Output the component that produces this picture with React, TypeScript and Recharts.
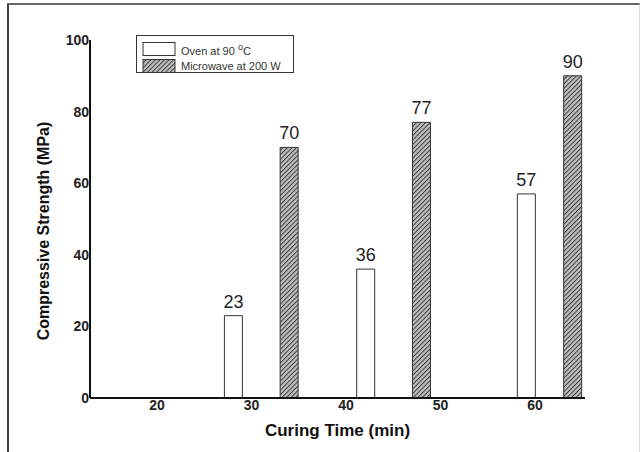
import { Bar, BarChart, LabelList, Legend, XAxis, YAxis } from "recharts";

// curing time positions (min) as drawn on the axis, and strengths (MPa)
const ovenTimes = [28.1, 42.1, 59.1];
const ovenStrength = [23, 36, 57];
const microwaveTimes = [34, 48, 64];
const microwaveStrength = [70, 77, 90];
const xTicks = [20, 30, 40, 50, 60];
const yTicks = [0, 20, 40, 60, 80, 100];

const chartData = [
  ...ovenTimes.map((t, i) => ({ t, oven: ovenStrength[i] })),
  ...microwaveTimes.map((t, i) => ({ t, microwave: microwaveStrength[i] })),
].sort((a, b) => a.t - b.t);

const font = "Arial, 'Liberation Sans', sans-serif";

const LegendBox = () => (
  <div
    style={{
      width: 156,
      height: 36,
      border: "1px solid #333",
      background: "#fff",
      fontFamily: font,
      fontSize: 11,
      color: "#333",
      boxSizing: "content-box",
    }}
  >
    <div style={{ display: "flex", alignItems: "center", marginTop: 6 }}>
      <svg width={34} height={14} style={{ marginLeft: 5 }}>
        <rect x={1} y={0.5} width={32} height={13} fill="#fff" stroke="#333" />
      </svg>
      <span style={{ marginLeft: 5 }}>
        Oven at 90 <sup style={{ fontSize: 9 }}>o</sup>C
      </span>
    </div>
    <div style={{ display: "flex", alignItems: "center", marginTop: 2 }}>
      <svg width={34} height={14} style={{ marginLeft: 5 }}>
        <rect x={1} y={0.5} width={32} height={13} fill="url(#hatch)" stroke="#333" />
      </svg>
      <span style={{ marginLeft: 5 }}>Microwave at 200 W</span>
    </div>
  </div>
);

const YTitle = ({ viewBox }: any) => {
  const x = viewBox.x + 13;
  const y = viewBox.y + viewBox.height / 2 + 12;
  return (
    <text
      x={x}
      y={y}
      transform={`rotate(-90, ${x}, ${y})`}
      textAnchor="middle"
      dominantBaseline="central"
      fontFamily={font}
      fontWeight="bold"
      fontSize={16}
      fill="#111"
    >
      Compressive Strength (MPa)
    </text>
  );
};

export default function App() {
  return (
    <div style={{ position: "absolute", left: 0, top: 0, width: 641, height: 452, background: "#fff" }}>
      <div
        style={{
          position: "absolute",
          left: 7,
          top: 3,
          width: 630,
          height: 460,
          borderTop: "2px solid #666",
          borderLeft: "2px solid #444",
          borderRight: "1px solid #ddd",
        }}
      />
      <svg width={0} height={0} style={{ position: "absolute" }}>
        <defs>
          <pattern id="hatch" width={3.2} height={3.2} patternUnits="userSpaceOnUse" patternTransform="rotate(45)">
            <rect width={3.2} height={3.2} fill="#bdbdbd" />
            <line x1={0} y1={0} x2={0} y2={3.2} stroke="#333" strokeWidth={1.8} />
          </pattern>
        </defs>
      </svg>
      <div style={{ position: "absolute", left: 0, top: 0 }}>
        <BarChart
          width={641}
          height={452}
          data={chartData}
          margin={{ top: 40, right: 56, bottom: 24, left: 30 }}
        >
          <XAxis
            dataKey="t"
            type="number"
            domain={[12.91, 65.29]}
            ticks={xTicks}
            allowDataOverflow
            tickLine={false}
            tickSize={0}
            tickMargin={2}
            height={30}
            axisLine={{ stroke: "#111", strokeWidth: 2 }}
            tick={{ fontFamily: font, fontSize: 14, fontWeight: "bold", fill: "#222" }}
            label={{
              value: "Curing Time (min)",
              position: "bottom",
              offset: -4,
              style: { fontFamily: font, fontSize: 17, fontWeight: "bold", fill: "#111" },
            }}
          />
          <YAxis
            type="number"
            domain={[0, 100]}
            ticks={yTicks}
            width={60}
            tickLine={false}
            tickSize={0}
            tickMargin={1}
            axisLine={{ stroke: "#111", strokeWidth: 2 }}
            tick={{ fontFamily: font, fontSize: 14, fontWeight: "bold", fill: "#222" }}
            label={<YTitle />}
          />
          <Legend
            layout="vertical"
            align="center"
            verticalAlign="middle"
            content={<LegendBox />}
            wrapperStyle={{ left: 136, top: 35, width: 158 }}
          />
          <Bar
            dataKey="oven"
            name="Oven at 90 °C"
            stackId="s"
            barSize={18}
            fill="#fff"
            stroke="#333"
            strokeWidth={1}
            isAnimationActive={false}
          >
            <LabelList dataKey="oven" position="top" offset={8} style={{ fontFamily: font, fontSize: 18, fill: "#222" }} />
          </Bar>
          <Bar
            dataKey="microwave"
            name="Microwave at 200 W"
            stackId="s"
            barSize={18}
            fill="url(#hatch)"
            stroke="#333"
            strokeWidth={1}
            isAnimationActive={false}
          >
            <LabelList dataKey="microwave" position="top" offset={8} style={{ fontFamily: font, fontSize: 18, fill: "#222" }} />
          </Bar>
        </BarChart>
      </div>
    </div>
  );
}
